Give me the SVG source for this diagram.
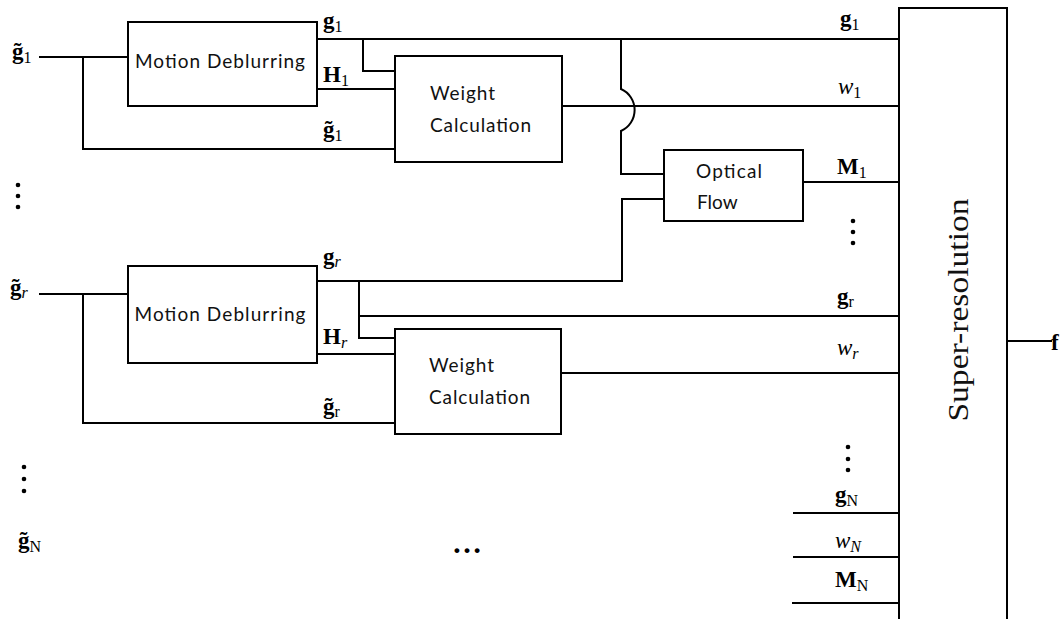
<svg xmlns="http://www.w3.org/2000/svg" width="1060" height="619" viewBox="0 0 1060 619">
<style>
.box{fill:#fff;stroke:#000;stroke-width:2}
.ln{fill:none;stroke:#000;stroke-width:2}
.t{font-family:Lato,"Liberation Sans",sans-serif;font-size:19px;fill:#111}
.m{font-family:"Liberation Serif","DejaVu Serif",serif;font-size:23px;fill:#000}
.b{font-weight:bold}
.i{font-style:italic}
.s{font-size:16px;font-weight:normal;font-style:normal}
.si{font-size:16px;font-weight:normal;font-style:italic}
</style>
<g id="connectors">
<path class="ln" d="M39,57 H128 M83,57 V149 H395"/>
<path class="ln" d="M317,39 H899 M363,39 V71 H395"/>
<path class="ln" d="M317,89 H395"/>
<path class="ln" d="M562,106 H899"/>
<path class="ln" d="M621,39 V89 A23,23 0 0 1 621,131 V174 H664"/>
<path class="ln" d="M803,182 H899"/>
<path class="ln" d="M317,281 H622 V199 H664"/>
<path class="ln" d="M359,281 V338 H395 M359,316 H899"/>
<path class="ln" d="M317,354 H395"/>
<path class="ln" d="M39,294 H128 M83,294 V423 H395"/>
<path class="ln" d="M561,373 H899"/>
<path class="ln" d="M793,513 H899 M793,557 H899 M792,603 H899"/>
<path class="ln" d="M1007,341 H1052"/>
</g>
<g id="md1">
<rect class="box" x="128" y="22" width="189" height="84"/>
<text class="t" x="220" y="68" text-anchor="middle" textLength="170">Motion Deblurring</text>
</g>
<g id="wc1">
<rect class="box" x="395" y="56" width="167" height="106"/>
<text class="t" x="430" y="100" textLength="65">Weight</text>
<text class="t" x="430" y="132" textLength="101">Calculation</text>
</g>
<g id="of">
<rect class="box" x="664" y="150" width="139" height="71"/>
<text class="t" x="696" y="178" textLength="66">Optical</text>
<text class="t" x="697" y="209">Flow</text>
</g>
<g id="md2">
<rect class="box" x="128" y="266" width="189" height="97"/>
<text class="t" x="220" y="321" text-anchor="middle" textLength="171">Motion Deblurring</text>
</g>
<g id="wc2">
<rect class="box" x="395" y="329" width="166" height="105"/>
<text class="t" x="429" y="372" textLength="65">Weight</text>
<text class="t" x="429" y="404" textLength="101">Calculation</text>
</g>
<g id="sr">
<path class="ln" d="M899,619 V8 H1007 V619"/>
<text font-family="Liberation Serif, serif" font-size="30" fill="#111" transform="translate(968,310) rotate(-90) scale(1.12,1)" text-anchor="middle">Super-resolution</text>
</g>
<g id="labels">
<text class="m b" x="12" y="59">g̃<tspan class="s" dy="4">1</tspan></text>
<text class="m b" x="323" y="28">g<tspan class="s" dy="4">1</tspan></text>
<text class="m b" x="323" y="82">H<tspan class="s" dy="4">1</tspan></text>
<text class="m b" x="323" y="137">g̃<tspan class="s" dy="4">1</tspan></text>
<text class="m b" x="840" y="26">g<tspan class="s" dy="4">1</tspan></text>
<text class="m i" x="838" y="94">w<tspan class="s" dy="4">1</tspan></text>
<text class="m b" x="837" y="174">M<tspan class="s" dy="4">1</tspan></text>
<text class="m b" x="10" y="295">g̃<tspan class="si" dy="3">r</tspan></text>
<text class="m b" x="323" y="264">g<tspan class="si" dy="3">r</tspan></text>
<text class="m b" x="323" y="344">H<tspan class="si" dy="4">r</tspan></text>
<text class="m b" x="323" y="414">g̃<tspan class="s" dy="3">r</tspan></text>
<text class="m b" x="837" y="304">g<tspan class="s" dy="3">r</tspan></text>
<text class="m i" x="837" y="355">w<tspan class="si" dy="4">r</tspan></text>
<text class="m b" x="18" y="548">g̃<tspan class="s" dy="4">N</tspan></text>
<text class="m b" x="835" y="502">g<tspan class="s" dy="4">N</tspan></text>
<text class="m i" x="835" y="548">w<tspan class="si" dy="4">N</tspan></text>
<text class="m b" x="835" y="587">M<tspan class="s" dy="4">N</tspan></text>
<text class="m b" x="1051" y="350">f</text>
<text class="m b" x="452" y="553" style="font-size:30px">…</text>
<g fill="#000">
<circle cx="18" cy="185" r="2.3"/><circle cx="18" cy="196" r="2.3"/><circle cx="18" cy="207" r="2.3"/>
<circle cx="24" cy="467" r="2.3"/><circle cx="24" cy="479" r="2.3"/><circle cx="24" cy="491" r="2.3"/>
<circle cx="853" cy="221" r="2.3"/><circle cx="853" cy="232" r="2.3"/><circle cx="853" cy="243" r="2.3"/>
<circle cx="848" cy="447" r="2.3"/><circle cx="848" cy="459" r="2.3"/><circle cx="848" cy="470" r="2.3"/>
</g>
</g>
</svg>
